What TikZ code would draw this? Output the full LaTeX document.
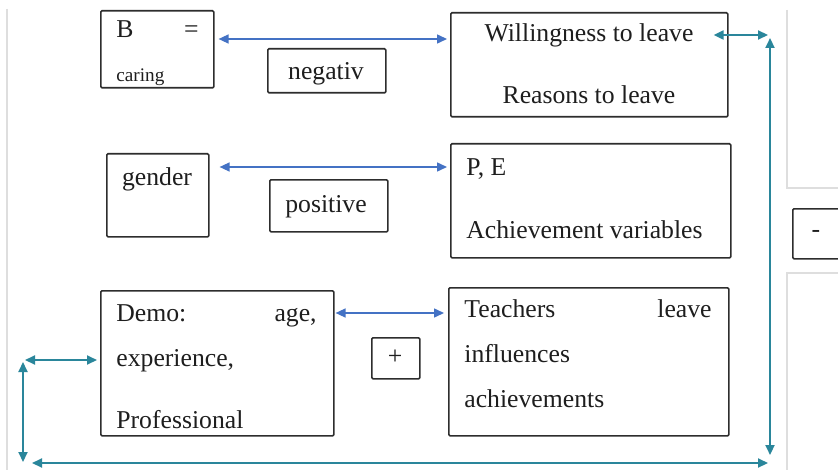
\documentclass[tikz,border=0pt]{standalone}
\usepackage{fontspec}
\setmainfont{Liberation Serif}
\usetikzlibrary{arrows.meta}
\definecolor{boxline}{RGB}{45,45,45}
\definecolor{arrblue}{RGB}{68,114,196}
\definecolor{arrteal}{RGB}{42,134,155}
\definecolor{bggray}{RGB}{222,222,222}
\definecolor{txtcol}{RGB}{30,30,30}
\tikzset{
  x=0.5pt, y=-0.5pt,
  box/.style={draw=boxline, line width=0.8pt, rounded corners=0.6pt, inner sep=0pt, anchor=north west},
  txt/.style={inner sep=0pt, text=txtcol, font=\fontsize{12.85}{15}\selectfont},
  small/.style={inner sep=0pt, text=txtcol, font=\fontsize{9.6}{11}\selectfont},
  bluearr/.style={draw=arrblue, line width=0.75pt, {Triangle[length=5pt,width=4.5pt]}-{Triangle[length=5pt,width=4.5pt]}},
  tealarr/.style={draw=arrteal, line width=1pt, {Triangle[length=5pt,width=4.5pt]}-{Triangle[length=5pt,width=4.5pt]}},
  bgline/.style={draw=bggray, line width=0.6pt}
}
\begin{document}
\begin{tikzpicture}
\useasboundingbox[fill=white] (0,0) rectangle (838,470);
% faint background frame lines
\draw[bgline] (7,9) -- (7,470);
\draw[bgline] (787,10) -- (787,188) -- (838,188);
\draw[bgline] (838,273) -- (787,273) -- (787,470);
% clipped box on the right
\begin{scope}
\clip (0,0) rectangle (838,470);
\node[box, minimum width=27pt, minimum height=25pt] (minus) at (792,208) {};
\end{scope}
\node[txt] (minustxt) at (816,234) {-};

% boxes
\node[box, minimum width=56.5pt, minimum height=38.5pt] (B) at (100,10) {};
\node[txt, anchor=base west] (Btxt) at (116,38) {B};
\node[txt, anchor=base east] (eqtxt) at (199,38) {=};
\node[small, anchor=base west] (caring) at (116,82) {caring};

\node[box, minimum width=59pt, minimum height=22pt] (neg) at (267,48) {};
\node[txt, anchor=base] (negtxt) at (326,80) {negativ};

\node[box, minimum width=138.5pt, minimum height=52pt] (W) at (450,12) {};
\node[txt, anchor=base] (Wtxt1) at (589,42) {Willingness to leave};
\node[txt, anchor=base] (Wtxt2) at (589,104) {Reasons to leave};

\node[box, minimum width=51pt, minimum height=41.5pt] (G) at (106,153) {};
\node[txt, anchor=base] (Gtxt) at (157,185) {gender};

\node[box, minimum width=59pt, minimum height=26pt] (pos) at (269,179) {};
\node[txt, anchor=base] (postxt) at (326,212) {positive};

\node[box, minimum width=140pt, minimum height=57pt] (PE) at (450,143) {};
\node[txt, anchor=base west] (PEtxt1) at (466,176) {P, E};
\node[txt, anchor=base west] (PEtxt2) at (466,238) {Achievement variables};

\node[box, minimum width=116.5pt, minimum height=72.5pt] (D) at (100,290) {};
\node[txt, anchor=base west] (Dtxt1) at (116,321) {Demo:};
\node[txt, anchor=base east] (Dtxt1b) at (317,321) {age,};
\node[txt, anchor=base west] (Dtxt2) at (116,366) {experience,};
\node[txt, anchor=base west] (Dtxt3) at (116,428) {Professional};

\node[box, minimum width=24pt, minimum height=20.5pt] (plus) at (371,337) {};
\node[txt] (plustxt) at (395,357) {+};

\node[box, minimum width=140pt, minimum height=74pt] (T) at (448,287) {};
\node[txt, anchor=base west] (Ttxt1) at (464,317) {Teachers};
\node[txt, anchor=base east] (Ttxt1b) at (712,317) {leave};
\node[txt, anchor=base west] (Ttxt2) at (464,362) {influences};
\node[txt, anchor=base west] (Ttxt3) at (464,407) {achievements};

% blue double arrows between boxes
\draw[bluearr, shorten <=2pt, shorten >=1.5pt] (B.east |- 0,39) -- (W.west |- 0,39);
\draw[bluearr, shorten <=5pt, shorten >=1.5pt] (G.east |- 0,167) -- (PE.west |- 0,167);
\draw[bluearr, shorten <=0.5pt, shorten >=2pt] (D.east |- 0,313) -- (T.west |- 0,313);

% teal feedback loop
\coordinate (tA) at (768,35);
\coordinate (tB) at (770,38);
\coordinate (tC) at (770,455);
\coordinate (tD) at (768,463);
\coordinate (tE) at (32,463);
\coordinate (tF) at (23,462);
\coordinate (tG) at (23,362);
\coordinate (tH) at (25,360);
\draw[tealarr] ([xshift=-7.5pt]W.east |- 0,35) -- (tA);
\draw[tealarr] (tB) -- (tC);
\draw[tealarr] (tE) -- (tD);
\draw[tealarr] (tG) -- (tF);
\draw[tealarr, shorten >=1.5pt] (tH) -- (D.west |- 0,360);
\end{tikzpicture}
\end{document}
